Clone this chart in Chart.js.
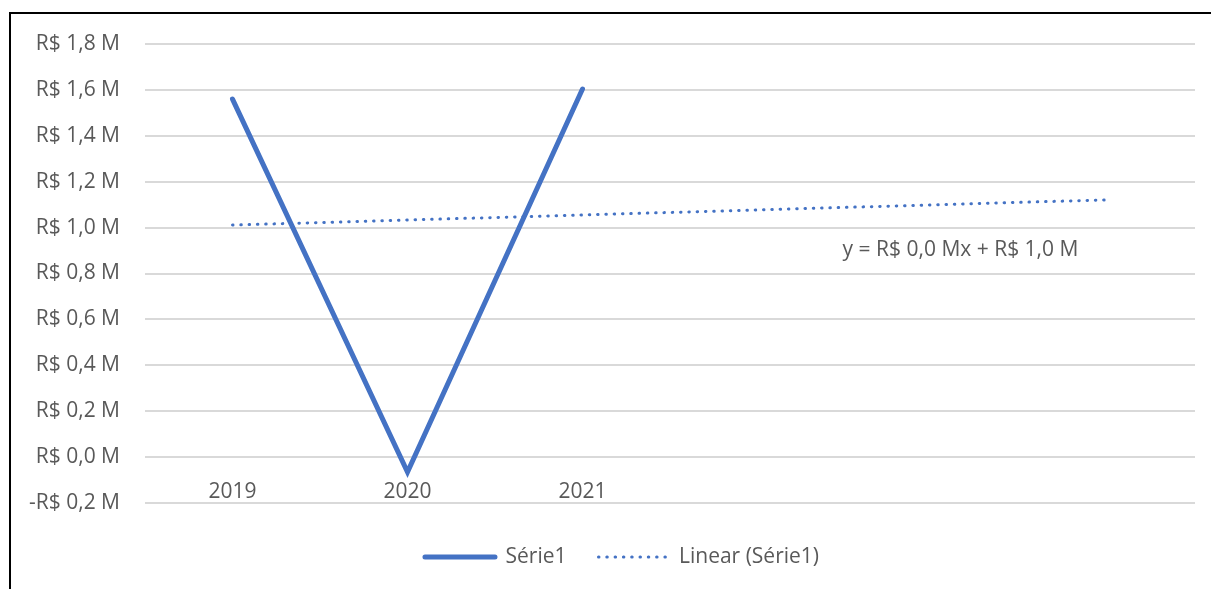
<!DOCTYPE html>
<html lang="pt-BR">
<head>
<meta charset="utf-8">
<title>Série1</title>
<script src="https://cdn.jsdelivr.net/npm/chart.js@4.4.1/dist/chart.umd.min.js"></script>
<style>
  html, body { margin: 0; padding: 0; background: #fff; overflow: hidden; }
  .chart-wrap { position: relative; width: 1211px; height: 589px; }
  .chart-frame {
    position: absolute; left: 9px; top: 12px; width: 1400px; height: 800px;
    border: 2px solid #000; pointer-events: none;
  }
</style>
</head>
<body>
<div class="chart-wrap">
  <canvas id="lineChart" width="1211" height="589"></canvas>
  <div class="chart-frame"></div>
</div>
<script>
// Data
const years = ['2019', '2020', '2021'];
const serieValues = [1560000, -65000, 1604000];
const forecastPeriods = 3;
const seriesLabel = 'Série1';
const trendLabel = 'Linear (Série1)';
const yMin = -200000;
const yMax = 1800000;
const yStep = 200000;

const BLUE = '#4472C4';
const TEXT = '#595959';
const FONT = "'Open Sans', sans-serif";

// Format values as "R$ 1,8 M"
function formatMillions(v) {
    const neg = v < -1e-6;
    const txt = (Math.abs(v) / 1e6).toFixed(1).replace('.', ',');
    return (neg ? '-' : '') + 'R$ ' + txt + ' M';
}

// Least squares trend over x = 1..n
function linearFit(values) {
    const n = values.length;
    let sx = 0, sy = 0, sxy = 0, sxx = 0;
    values.forEach((y, i) => {
        const x = i + 1;
        sx += x; sy += y; sxy += x * y; sxx += x * x;
    });
    const slope = (n * sxy - sx * sy) / (n * sxx - sx * sx);
    const intercept = (sy - slope * sx) / n;
    return { slope, intercept };
}

const fit = linearFit(serieValues);
const totalPoints = years.length + forecastPeriods;
const categories = years.concat(Array(forecastPeriods).fill(''));
const trendValues = [];
for (let i = 0; i < totalPoints; i++) {
    trendValues.push(fit.intercept + fit.slope * (i + 1));
}
const equationText = 'y = ' + formatMillions(fit.slope) + 'x + ' + formatMillions(fit.intercept);

// Trendline equation label
const equationPlugin = {
    id: 'equationLabel',
    afterLayout(chart) {
        // let the y labels reach past the narrowed axis box
        chart.scales.y.left = 0;
    },
    afterDatasetsDraw(chart) {
        const { ctx, scales } = chart;
        const xi = 4.16;
        const x = scales.x.getPixelForValue(xi);
        const trendAt = fit.intercept + fit.slope * (xi + 1);
        const y = scales.y.getPixelForValue(trendAt) + 46;
        ctx.save();
        ctx.font = '21px ' + FONT;
        ctx.fillStyle = TEXT;
        ctx.textAlign = 'center';
        ctx.textBaseline = 'middle';
        ctx.fillText(equationText, x, y);
        ctx.restore();
    }
};

function initializeLineChart() {
    const ctx = document.getElementById('lineChart');
    if (!ctx) return;

    const chartData = {
        labels: categories,
        datasets: [{
            label: trendLabel,
            data: trendValues,
            borderColor: BLUE,
            borderWidth: 3,
            borderDash: [0.5, 7.8],
            borderCapStyle: 'round',
            pointRadius: 0,
            fill: false,
            order: 0
        }, {
            label: seriesLabel,
            data: serieValues,
            borderColor: BLUE,
            borderWidth: 5,
            borderCapStyle: 'round',
            borderJoinStyle: 'miter',
            pointRadius: 0,
            fill: false,
            tension: 0,
            order: 1
        }]
    };

    const chartConfig = {
        type: 'line',
        data: chartData,
        options: {
            responsive: false,
            animation: false,
            layout: {
                padding: { left: 49, right: 16, top: 44, bottom: 11.5 }
            },
            plugins: {
                tooltip: { enabled: false },
                legend: {
                    position: 'bottom',
                    reverse: true,
                    title: {
                        display: true,
                        text: ' ',
                        font: { size: 5 },
                        padding: { top: 5.5, bottom: 0 }
                    },
                    labels: {
                        usePointStyle: true,
                        pointStyleWidth: 70,
                        padding: 32,
                        color: TEXT,
                        font: { family: FONT, size: 21 },
                        generateLabels: function(chart) {
                            return chart.data.datasets.map((ds, i) => ({
                                text: ds.label,
                                datasetIndex: i,
                                fillStyle: ds.borderColor,
                                strokeStyle: ds.borderColor,
                                lineWidth: ds.borderWidth,
                                lineDash: ds.borderDash || [],
                                lineCap: 'round',
                                pointStyle: 'line',
                                fontColor: TEXT,
                                hidden: false
                            }));
                        }
                    }
                }
            },
            scales: {
                x: {
                    type: 'category',
                    position: { y: 0 },
                    offset: true,
                    grid: { display: false, drawTicks: false },
                    border: { display: false },
                    ticks: {
                        color: TEXT,
                        padding: 22,
                        autoSkip: false,
                        maxRotation: 0,
                        font: { family: FONT, size: 21 }
                    }
                },
                y: {
                    min: yMin,
                    max: yMax,
                    afterFit: function(scale) {
                        scale.width = 96;
                    },
                    grid: {
                        color: '#D9D9D9',
                        lineWidth: 2,
                        drawTicks: false
                    },
                    border: { display: false },
                    ticks: {
                        stepSize: yStep,
                        padding: 25,
                        color: TEXT,
                        font: { family: FONT, size: 21 },
                        callback: function(value) {
                            return formatMillions(value);
                        }
                    }
                }
            }
        },
        plugins: [equationPlugin]
    };

    window.lineChart = new Chart(ctx, chartConfig);
}

document.addEventListener('DOMContentLoaded', initializeLineChart);
</script>
</body>
</html>
